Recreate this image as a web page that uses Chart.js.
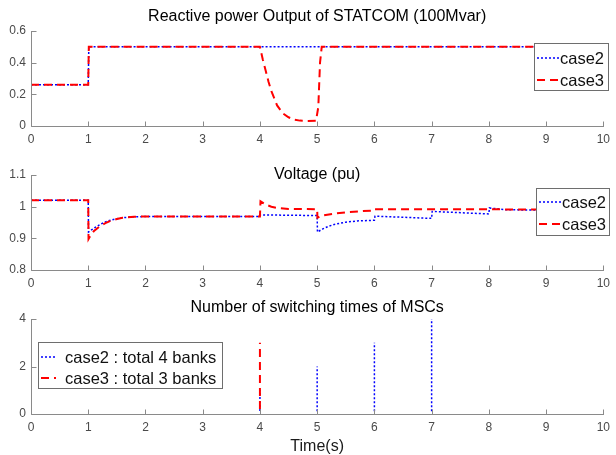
<!DOCTYPE html>
<html><head><meta charset="utf-8">
<script src="https://cdn.jsdelivr.net/npm/chart.js@4.4.1/dist/chart.umd.min.js"></script>
<style>
html,body{margin:0;padding:0;background:#fff;}
#wrap{position:relative;width:616px;height:455px;overflow:hidden;}
#wrap canvas{position:absolute;left:0;top:0;}
</style></head><body>
<div id="wrap">
<canvas id="c1" width="616" height="455"></canvas>
<canvas id="c2" width="616" height="455"></canvas>
<canvas id="c3" width="616" height="455"></canvas>
</div>
<script>
// ---------- data ----------
const xTicks = [0,1,2,3,4,5,6,7,8,9,10];
const qTicks = [0,0.2,0.4,0.6];
const vTicks = [0.8,0.9,1,1.1];
const nTicks = [0,2,4];

const titles = ['Reactive power Output of STATCOM (100Mvar)','Voltage (pu)','Number of switching times of MSCs'];
const xAxisLabel = 'Time(s)';
const labelsTop = ['case2','case3'];
const labelsBottom = ['case2 : total 4 banks','case3 : total 3 banks'];

const qTime2 = [0, 1, 1.01, 10];
const qCase2 = [0.26, 0.26, 0.5, 0.5];
const qTime3 = [0, 1, 1.01, 4, 4.05, 4.1, 4.15, 4.2, 4.3, 4.4, 4.5, 4.6, 4.7, 4.8, 4.98, 5.02, 5.05, 5.08, 10];
const qCase3 = [0.26, 0.26, 0.5, 0.5, 0.42, 0.35, 0.28, 0.22, 0.13, 0.08, 0.055, 0.04, 0.034, 0.032, 0.033, 0.12, 0.4, 0.5, 0.5];

const vTime2 = [0, 1, 1.005, 1.1, 1.2, 1.3, 1.4, 1.5, 1.6, 1.8, 2.0, 4.0, 4.01, 5.0, 5.005, 5.1, 5.2, 5.3, 5.5, 5.7, 6.0, 6.01, 7.0, 7.01, 8.0, 8.01, 8.3, 10];
const vCase2 = [1.02, 1.02, 0.92, 0.932, 0.943, 0.952, 0.958, 0.962, 0.965, 0.968, 0.969, 0.969, 0.974, 0.972, 0.92, 0.93, 0.938, 0.944, 0.951, 0.955, 0.957, 0.97, 0.963, 0.985, 0.977, 0.996, 0.99, 0.989];
const vTime3 = [0, 1, 1.005, 1.05, 1.1, 1.2, 1.3, 1.4, 1.5, 1.6, 1.8, 2.0, 4.0, 4.01, 4.1, 4.2, 4.3, 4.5, 5.0, 5.005, 5.1, 5.3, 5.5, 5.8, 6.0, 6.01, 10];
const vCase3 = [1.02, 1.02, 0.898, 0.912, 0.923, 0.938, 0.948, 0.956, 0.961, 0.965, 0.968, 0.969, 0.969, 1.017, 1.007, 1.0, 0.996, 0.993, 0.992, 0.965, 0.972, 0.978, 0.982, 0.986, 0.988, 0.992, 0.991];

// switching pulses (null = pen up, so each pulse is drawn once)
const nTime2 = [0, 4, 4, 4, 4, 5, 5, 5, 5, 6, 6, 6, 6, 7, 7, 7, 7, 10];
const nCase2 = [0, 0, 1, null, 0, 0, 2, null, 0, 0, 3, null, 0, 0, 4, null, 0, 0];
const nTime3 = [0, 4, 4, 4, 4, 10];
const nCase3 = [0, 0, 3, null, 0, 0];

// ---------- style ----------
const FONT = "'Liberation Sans', Arial, Helvetica, sans-serif";
const AXIS_COLOR = '#8a8a8a';
const TICK_COLOR = '#4a4a4a';
const BLUE = '#0000ff';
const RED = '#ff0000';

const pts = (xs, ys) => xs.map((x, i) => ({x, y: ys[i]}));

const matAxes = {
  id: 'matAxes',
  afterDatasetsDraw(chart) {
    const {ctx, chartArea: a, scales: {x, y}} = chart;
    ctx.save();
    ctx.strokeStyle = AXIS_COLOR;
    ctx.lineWidth = 1;
    ctx.setLineDash([]);
    ctx.beginPath();
    const L = Math.round(a.left) + 0.5, B = Math.round(a.bottom) + 0.5;
    ctx.moveTo(L, Math.round(a.top));
    ctx.lineTo(L, B);
    ctx.lineTo(Math.round(a.right) + 1, B);
    x.ticks.forEach(t => {
      const px = Math.round(x.getPixelForValue(t.value)) + 0.5;
      ctx.moveTo(px, B); ctx.lineTo(px, B - 5);
    });
    y.ticks.forEach(t => {
      const py = Math.round(y.getPixelForValue(t.value)) + 0.5;
      ctx.moveTo(L, py); ctx.lineTo(L + 5, py);
    });
    ctx.stroke();
    ctx.restore();
  },
  afterDraw(chart, args, o) {
    if (!o || !o.box) return;
    const {ctx} = chart;
    const [x1, y1, x2, y2] = o.box;
    ctx.save();
    ctx.fillStyle = '#ffffff';
    ctx.fillRect(x1, y1, x2 - x1, y2 - y1);
    ctx.strokeStyle = '#6e6e6e';
    ctx.lineWidth = 1;
    ctx.setLineDash([]);
    ctx.strokeRect(x1 + 0.5, y1 + 0.5, x2 - x1 - 1, y2 - y1 - 1);
    ctx.font = o.fontSize + 'px ' + FONT;
    ctx.textBaseline = 'middle';
    ctx.fillStyle = '#111';
    chart.data.datasets.forEach((ds, i) => {
      const yy = o.rows[i];
      ctx.beginPath();
      ctx.strokeStyle = ds.borderColor;
      ctx.lineWidth = ds.borderWidth;
      ctx.setLineDash(ds.borderDash || []);
      ctx.moveTo(o.sample[0], yy);
      ctx.lineTo(o.sample[1], yy);
      ctx.stroke();
      ctx.setLineDash([]);
      ctx.fillText(ds.label, o.textX, yy + 1);
    });
    ctx.restore();
  }
};

const fmt = v => String(+Number(v).toFixed(2));

function makeChart(id, cfg) {
  const titleSize = 16, titleLH = titleSize * 1.2;
  const clip = cfg.clipBottom ? {left: 2, top: 2, right: 2, bottom: cfg.clipBottom} : undefined;
  return new Chart(document.getElementById(id), {
    type: 'line',
    data: {
      datasets: [
        {label: cfg.labels[0], data: pts(cfg.t2, cfg.v2), borderColor: BLUE, borderWidth: 1.5, borderDash: [2, 2], pointRadius: 0, fill: false, tension: 0, spanGaps: false, order: 1, clip},
        {label: cfg.labels[1], data: pts(cfg.t3, cfg.v3), borderColor: RED, borderWidth: 2, borderDash: [8, 5], pointRadius: 0, fill: false, tension: 0, spanGaps: false, order: 0, clip}
      ]
    },
    options: {
      responsive: false,
      animation: false,
      devicePixelRatio: 1,
      events: [],
      layout: {padding: {left: 0, right: 8, top: cfg.titleY - titleLH / 2, bottom: 455 - cfg.bottom - cfg.xh}},
      plugins: {
        legend: {display: false},
        tooltip: {enabled: false},
        title: {
          display: true, text: cfg.title, color: '#000', fullSize: false,
          font: {family: FONT, size: titleSize, weight: 'normal', lineHeight: 1.2},
          padding: {top: 0, bottom: cfg.top - cfg.titleY - titleLH / 2}
        },
        matAxes: cfg.legend
      },
      scales: {
        x: {
          type: 'linear', min: 0, max: 10,
          afterBuildTicks: s => { s.ticks = xTicks.map(v => ({value: v})); },
          afterFit: s => { s.height = cfg.xh; },
          grid: {display: false, drawTicks: false},
          border: {display: false},
          ticks: {color: TICK_COLOR, font: {family: FONT, size: 12}, padding: 6, maxRotation: 0, autoSkip: false, callback: fmt},
          title: cfg.xTitle ? {display: true, text: cfg.xTitle, color: '#1a1a1a', font: {family: FONT, size: 16, lineHeight: 1.2}, padding: {top: 0, bottom: -2}} : {display: false}
        },
        y: {
          type: 'linear', min: cfg.ymin, max: cfg.ymax,
          afterBuildTicks: s => { s.ticks = cfg.yTicks.map(v => ({value: v})); },
          afterFit: s => { s.width = 31; },
          grid: {display: false, drawTicks: false},
          border: {display: false},
          ticks: {color: TICK_COLOR, font: {family: FONT, size: 12}, padding: 5, callback: fmt}
        }
      }
    },
    plugins: [matAxes]
  });
}

makeChart('c1', {
  title: titles[0], titleY: 17, top: 31, bottom: 126, xh: 20,
  ymin: 0, ymax: 0.6, yTicks: qTicks,
  t2: qTime2, v2: qCase2, t3: qTime3, v3: qCase3, labels: labelsTop,
  legend: {box: [534, 43, 609, 91], rows: [58, 80], sample: [537, 559], textX: 560, fontSize: 16.5}
});
makeChart('c2', {
  title: titles[1], titleY: 175, top: 175, bottom: 270, xh: 20,
  ymin: 0.8, ymax: 1.1, yTicks: vTicks,
  t2: vTime2, v2: vCase2, t3: vTime3, v3: vCase3, labels: labelsTop,
  legend: {box: [536, 188, 610, 236], rows: [202, 224], sample: [539, 561], textX: 562, fontSize: 16.5}
});
makeChart('c3', {
  title: titles[2], titleY: 308, top: 319, bottom: 414, xh: 40, xTitle: xAxisLabel, clipBottom: -1.5,
  ymin: 0, ymax: 4, yTicks: nTicks,
  t2: nTime2, v2: nCase2, t3: nTime3, v3: nCase3, labels: labelsBottom,
  legend: {box: [38, 342, 223, 389], rows: [357, 378], sample: [41, 56], textX: 65, fontSize: 16.5}
});
</script>
</body></html>
